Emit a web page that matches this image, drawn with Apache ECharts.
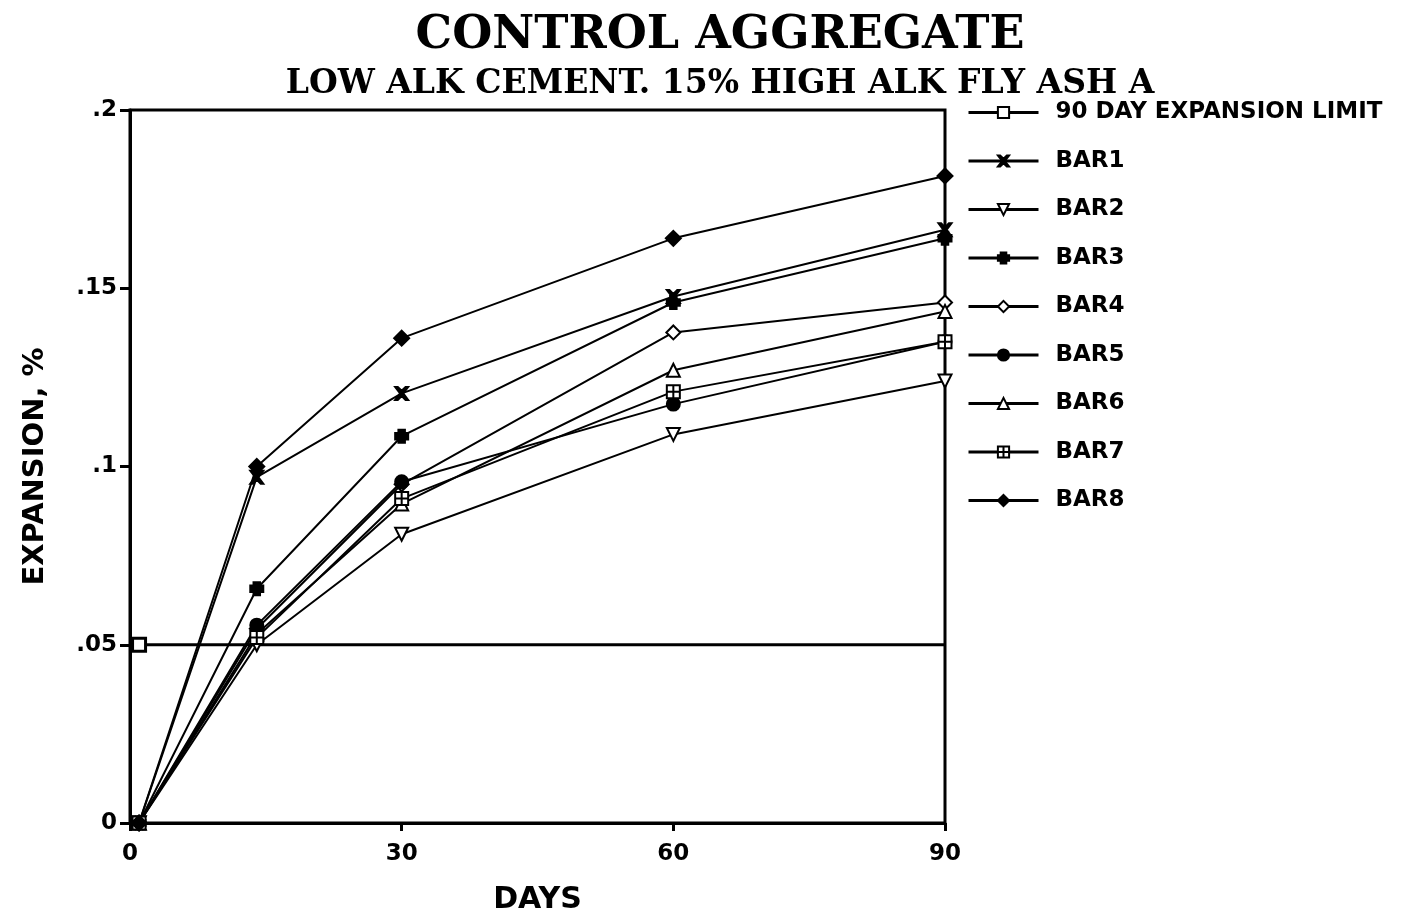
<!DOCTYPE html>
<html>
<head>
<meta charset="utf-8">
<script src="https://cdn.jsdelivr.net/npm/echarts@6/dist/echarts.min.js"></script>
<style>
  html, body { margin: 0; padding: 0; background: #fff; }
  #chart { width: 1414px; height: 920px; }
</style>
</head>
<body>
<div id="chart"></div>
<script>
// days of measurement
var days = [1, 14, 30, 60, 90];
var limitDays = [1, 90];
var limitValues = [0.05, 0.05];
var seriesNames = ['BAR1', 'BAR2', 'BAR3', 'BAR4', 'BAR5', 'BAR6', 'BAR7', 'BAR8'];
// expansion, %
var bar1 = [0, 0.097, 0.1205, 0.1477, 0.1664];
var bar2 = [0, 0.050, 0.081, 0.109, 0.124];
var bar3 = [0, 0.0657, 0.1085, 0.146, 0.164];
var bar4 = [0, 0.0545, 0.095, 0.1376, 0.146];
var bar5 = [0, 0.0555, 0.0957, 0.1175, 0.135];
var bar6 = [0, 0.053, 0.0895, 0.127, 0.1435];
var bar7 = [0, 0.052, 0.091, 0.121, 0.135];
var bar8 = [0, 0.100, 0.136, 0.164, 0.1815];
var barValues = [bar1, bar2, bar3, bar4, bar5, bar6, bar7, bar8];
var yTicks = [0, 0.05, 0.1, 0.15, 0.2];

var sans = 'DejaVu Sans';
var serif = 'DejaVu Serif';

// marker shapes, one per series
var X_PATH = 'path://M0,0 L2,0 L5,3 L8,0 L10,0 L6.2,5 L10,10 L8,10 L5,7 L2,10 L0,10 L3.8,5 Z';
var HASH_PATH = 'path://M2.5,0 L4.5,0 L4.5,10 L2.5,10 Z M5.5,0 L7.5,0 L7.5,10 L5.5,10 Z M0,2.5 L10,2.5 L10,4.5 L0,4.5 Z M0,5.5 L10,5.5 L10,7.5 L0,7.5 Z';
var BOXPLUS_PATH = 'path://M0,0 L10,0 L10,10 L0,10 Z M5,0 L5,10 M0,5 L10,5';
var markers = [
  {symbol: X_PATH, size: 13, fill: '#000'},
  {symbol: 'triangle', size: 13, fill: '#fff', rotate: 180},
  {symbol: HASH_PATH, size: 13, fill: '#000'},
  {symbol: 'diamond', size: 14, fill: '#fff'},
  {symbol: 'circle', size: 13, fill: '#000'},
  {symbol: 'triangle', size: 13, fill: '#fff'},
  {symbol: BOXPLUS_PATH, size: 13, fill: '#fff'},
  {symbol: 'diamond', size: 15, fill: '#000'}
];

function toPairs(xs, ys) {
  return xs.map(function (x, i) { return [x, ys[i]]; });
}

var series = [{
  name: '90 DAY EXPANSION LIMIT',
  type: 'line',
  data: [
    {value: [limitDays[0], limitValues[0]]},
    {value: [limitDays[1], limitValues[1]], symbol: 'none'}
  ],
  symbol: 'rect',
  symbolSize: 13,
  lineStyle: {color: '#000', width: 3},
  itemStyle: {color: '#fff', borderColor: '#000', borderWidth: 3},
  z: 2
}];

seriesNames.forEach(function (name, i) {
  var m = markers[i];
  series.push({
    name: name,
    type: 'line',
    data: toPairs(days, barValues[i]),
    symbol: m.symbol,
    symbolSize: m.size,
    symbolRotate: m.rotate || 0,
    showAllSymbol: true,
    lineStyle: {color: '#000', width: 2},
    itemStyle: {color: m.fill, borderColor: '#000', borderWidth: 2},
    z: 3
  });
});

var chart = echarts.init(document.getElementById('chart'));
chart.setOption({
  animation: false,
  backgroundColor: '#fff',
  title: [{
    text: 'CONTROL AGGREGATE',
    left: 715,
    top: 8,
    textAlign: 'center',
    textStyle: {fontFamily: serif, fontSize: 46, fontWeight: 'bold', color: '#000'}
  }, {
    text: 'LOW ALK CEMENT. 15% HIGH ALK FLY ASH A',
    left: 715,
    top: 63,
    textAlign: 'center',
    textStyle: {fontFamily: serif, fontSize: 33, fontWeight: 'bold', color: '#000'}
  }],
  legend: {
    orient: 'vertical',
    left: 962,
    top: 96,
    itemWidth: 70,
    itemHeight: 14,
    itemGap: 25.5,
    lineStyle: {width: 3},
    textStyle: {fontFamily: sans, fontSize: 23, fontWeight: 'bold', color: '#000', padding: [0, 0, 0, 12]},
    data: ['90 DAY EXPANSION LIMIT'].concat(seriesNames)
  },
  grid: {
    left: 130,
    right: 469,
    top: 110,
    bottom: 95,
    show: true,
    borderColor: '#000',
    borderWidth: 3
  },
  xAxis: {
    type: 'value',
    min: 0,
    max: 90,
    interval: 30,
    name: 'DAYS',
    nameLocation: 'middle',
    nameGap: 62,
    nameTextStyle: {fontFamily: sans, fontSize: 30, fontWeight: 'bold', color: '#000'},
    axisLine: {lineStyle: {color: '#000', width: 3}},
    axisTick: {show: true, length: 8, lineStyle: {color: '#000', width: 3}},
    axisLabel: {fontFamily: sans, fontSize: 23, fontWeight: 'bold', color: '#000', margin: 20},
    splitLine: {show: false}
  },
  yAxis: {
    type: 'value',
    min: 0,
    max: 0.2,
    interval: 0.05,
    name: 'EXPANSION, %',
    nameLocation: 'middle',
    nameGap: 80,
    nameTextStyle: {fontFamily: sans, fontSize: 29, fontWeight: 'bold', color: '#000'},
    axisLine: {lineStyle: {color: '#000', width: 3}},
    axisTick: {show: true, length: 10, lineStyle: {color: '#000', width: 3}},
    axisLabel: {
      fontFamily: sans, fontSize: 23, fontWeight: 'bold', color: '#000', margin: 13,
      formatter: function (v) {
        var s = String(+v.toFixed(2));
        return s === '0' ? '0' : s.replace(/^0/, '');
      }
    },
    splitLine: {show: false}
  },
  series: series
});
</script>
</body>
</html>
